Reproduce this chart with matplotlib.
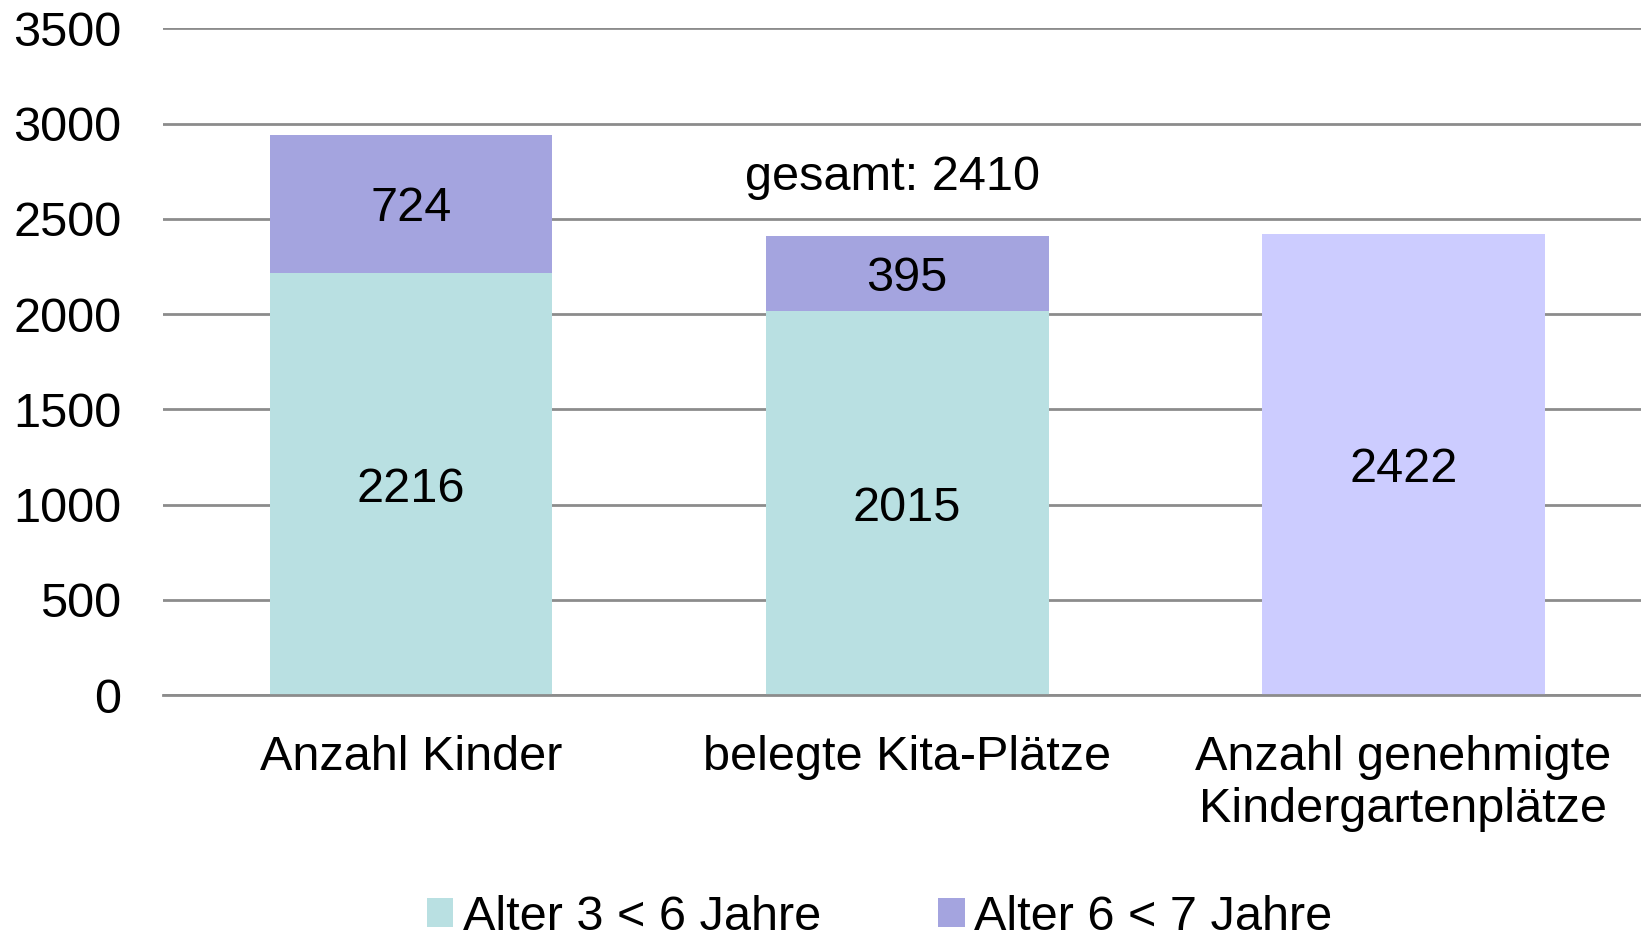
import numpy as np
import matplotlib.pyplot as plt

plt.rcParams['font.family'] = ['Liberation Sans', 'DejaVu Sans']

categories = ["Anzahl Kinder", "belegte Kita-Plätze", "Anzahl genehmigte\nKindergartenplätze"]
alter_3_6 = [2216, 2015, 0]
alter_6_7 = [724, 395, 0]
genehmigt = [0, 0, 2422]
gesamt = 2410
yticks = [0, 500, 1000, 1500, 2000, 2500, 3000, 3500]

col_teal = "#b9e0e2"
col_purple = "#a4a4df"
col_lav = "#ccccff"
fs = 35

fig = plt.figure(figsize=(16.41, 9.42), dpi=100)
ax = fig.add_axes([0.0993, 0.262, 0.907, 0.708])

x = np.arange(len(categories))
w = 0.57
b1 = ax.bar(x[:2], alter_3_6[:2], w, color=col_teal, label="Alter 3 < 6 Jahre", zorder=2)
b2 = ax.bar(x[:2], alter_6_7[:2], w, bottom=alter_3_6[:2], color=col_purple,
            label="Alter 6 < 7 Jahre", zorder=2)
ax.bar(x[2], genehmigt[2], w, color=col_lav, zorder=2)

va = "center_baseline"
for i in range(2):
    ax.text(x[i], alter_3_6[i] / 2, str(alter_3_6[i]), ha="center", va=va, fontsize=fs)
    ax.text(x[i], alter_3_6[i] + alter_6_7[i] / 2, str(alter_6_7[i]),
            ha="center", va=va, fontsize=fs)
ax.text(x[2], genehmigt[2] / 2, str(genehmigt[2]), ha="center", va=va, fontsize=fs)
ax.text(0.97, 2742, "gesamt: %d" % gesamt, ha="center", va=va, fontsize=fs)

ax.set_xlim(-0.5, 2.5)
ax.set_ylim(0, 3500)
ax.set_yticks(yticks)
ax.set_xticks(x)
ax.set_xticklabels(categories, fontsize=fs, linespacing=1.2)
ax.tick_params(axis="y", length=0, pad=30, labelsize=fs)
ax.tick_params(axis="x", length=0, pad=29)
ax.yaxis.grid(True, color="#8c8c8c", linewidth=2, zorder=1)
for s in ["top", "right", "left"]:
    ax.spines[s].set_visible(False)
ax.spines["bottom"].set_color("#8c8c8c")
ax.spines["bottom"].set_linewidth(2)
ax.spines["bottom"].set_zorder(3)

fig.legend(handles=[b1, b2], loc="lower center", ncol=2, frameon=False, fontsize=fs,
           bbox_to_anchor=(0.536, -0.044), handlelength=0.55, handleheight=0.55,
           handletextpad=0.2, columnspacing=2.4)

fig.savefig("out.png", dpi=100)
